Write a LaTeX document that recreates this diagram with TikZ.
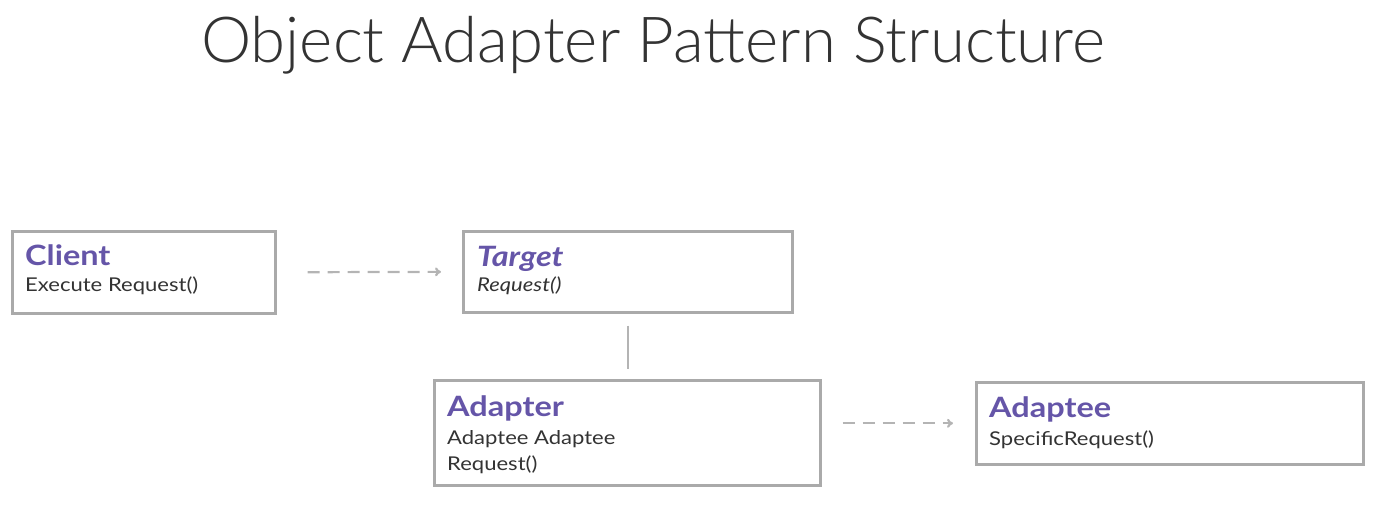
\documentclass[tikz,border=0pt]{standalone}
\usepackage{fontspec}
\setmainfont{Lato}[FakeStretch=1.16]
\newfontfamily\titlefont{Lato Light}
\usetikzlibrary{arrows.meta}
\definecolor{boxgray}{HTML}{AAAAAA}
\definecolor{linegray}{HTML}{B4B4B4}
\definecolor{purp}{HTML}{6555A8}
\definecolor{txt}{HTML}{333333}
\begin{document}
\begin{tikzpicture}[x=1pt,y=-1pt,
  classbox/.style={draw=boxgray,line width=2.6pt,fill=white,anchor=north west,inner sep=0pt},
  cname/.style={anchor=base west,inner sep=0pt,text=purp,font=\fontsize{28}{30}\selectfont\bfseries},
  cmember/.style={anchor=base west,inner sep=0pt,text=txt,font=\fontsize{19}{22}\selectfont},
  dep/.style={draw=linegray,line width=2.2pt,dash pattern=on 12pt off 8pt,-{To[length=6pt,width=9pt]}},
  assoc/.style={draw=linegray,line width=2.2pt}]
\useasboundingbox (0,0) rectangle (1378,505);
\node[anchor=base,inner sep=0pt,text=txt,font=\titlefont\fontsize{63.5}{70}\selectfont] (title) at (653,63) {Object Adapter Pattern Structure};
% boxes
\node[classbox,minimum width=263pt,minimum height=82pt] (client) at (11,230) {};
\node[classbox,minimum width=329pt,minimum height=81pt] (target) at (462,230) {};
\node[classbox,minimum width=386pt,minimum height=105pt] (adapter) at (433,379) {};
\node[classbox,minimum width=387pt,minimum height=82pt] (adaptee) at (975,381) {};
% texts
\node[cname] (clientname) at (25,265) {Client};
\node[cmember] (clientm) at (25,291) {Execute Request()};
\node[cname,font=\fontsize{28}{30}\selectfont\bfseries\itshape] (targetname) at (477,266) {Target};
\node[cmember,font=\fontsize{19}{22}\selectfont\itshape] (targetm) at (477,291) {Request()};
\node[cname] (adaptername) at (447,416) {Adapter};
\node[cmember] (adapterm1) at (447,444) {Adaptee Adaptee};
\node[cmember] (adapterm2) at (447,470) {Request()};
\node[cname] (adapteename) at (989,417) {Adaptee};
\node[cmember] (adapteem) at (989,445) {SpecificRequest()};
% connectors
\draw[dep,shorten <=31pt,shorten >=21pt] (client.east) -- (target.west);
\draw[assoc,shorten <=12pt,shorten >=10pt] (target.south) -- (target.south |- adapter.north);
\draw[dep,shorten <=21pt,shorten >=22pt] (adaptee.west -| adapter.east) -- (adaptee.west);
\end{tikzpicture}
\end{document}
